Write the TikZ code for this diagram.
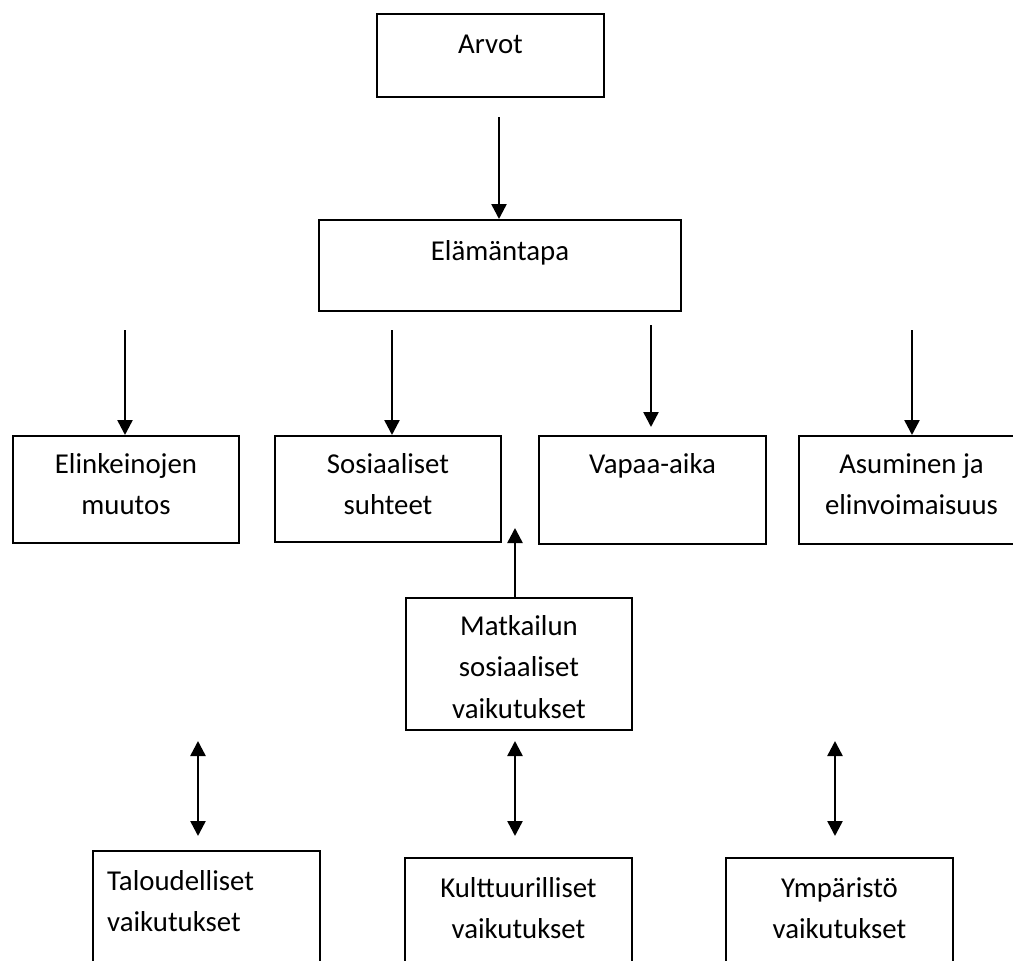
\documentclass[tikz,border=0pt]{standalone}
\usepackage{fontspec}
\setmainfont{Carlito}
\usetikzlibrary{arrows.meta,calc}
\begin{document}
\begin{tikzpicture}[x=1pt,y=-1pt,
  box/.style={draw, line width=2pt, anchor=north west, inner sep=0pt},
  txt/.style={anchor=base, inner sep=0pt, font=\fontsize{28.8}{41.5}\selectfont},
  tipA/.style={},
  arr/.style={line width=2.5pt, -{Triangle[width=15pt,length=15pt]}},
  darr/.style={line width=2.5pt, {Triangle[width=15pt,length=15pt]}-{Triangle[width=15pt,length=15pt]}}]
\useasboundingbox[fill=white] (0,0) rectangle (1013,961);
\clip (0,0) rectangle (1013,961);
% boxes
\node[box, minimum width=227pt, minimum height=83pt]  (arvot) at (376,13) {};
\node[box, minimum width=362pt, minimum height=91pt]  (elama) at (318,219) {};
\node[box, minimum width=226pt, minimum height=107pt] (elink) at (12,435) {};
\node[box, minimum width=226pt, minimum height=106pt] (sosi)  at (274,435) {};
\node[box, minimum width=227pt, minimum height=108pt] (vapaa) at (538,435) {};
\node[box, minimum width=230pt, minimum height=108pt] (asum)  at (798,435) {};
\node[box, minimum width=226pt, minimum height=132pt] (matk)  at (405,597) {};
\node[box, minimum width=227pt, minimum height=130pt] (talo)  at (92,850) {};
\node[box, minimum width=227pt, minimum height=130pt] (kult)  at (404,857) {};
\node[box, minimum width=227pt, minimum height=130pt] (ymp)   at (725,857) {};
% texts
\node[txt] (tarvot) at ($(arvot.north)+(0,40)$) {Arvot};
\node[txt] (telama) at ($(elama.north)+(0,41)$) {Elämäntapa};
\node[txt] (telink) at ($(elink.north)+(0,38)$) {\begin{tabular}[t]{@{}c@{}}Elinkeinojen\\muutos\end{tabular}};
\node[txt] (tsosi)  at ($(sosi.north)+(0,38)$) {\begin{tabular}[t]{@{}c@{}}Sosiaaliset\\suhteet\end{tabular}};
\node[txt] (tvapaa) at ($(vapaa.north)+(0,38)$) {Vapaa-aika};
\node[txt] (tasum)  at ($(asum.north west)+(113.5,38)$) {\begin{tabular}[t]{@{}c@{}}Asuminen ja\\elinvoimaisuus\end{tabular}};
\node[txt] (tmatk)  at ($(matk.north)+(0,38)$) {\begin{tabular}[t]{@{}c@{}}Matkailun\\sosiaaliset\\vaikutukset\end{tabular}};
\node[txt, anchor=base west] (ttalo) at ($(talo.north west)+(15,40)$) {\begin{tabular}[t]{@{}l@{}}Taloudelliset\\vaikutukset\end{tabular}};
\node[txt] (tkult)  at ($(kult.north)+(0,40)$) {\begin{tabular}[t]{@{}c@{}}Kulttuurilliset\\vaikutukset\end{tabular}};
\node[txt] (tymp)   at ($(ymp.north)+(0,40)$) {\begin{tabular}[t]{@{}c@{}}Ympäristö\\vaikutukset\end{tabular}};
% arrows
\coordinate (a0) at (499,117);
\draw[arr] (a0) -- (a0 |- elama.north);
\coordinate (b1) at (125,330);
\draw[arr] (b1) -- (b1 |- elink.north);
\coordinate (b2) at (392,330);
\draw[arr] (b2) -- (b2 |- sosi.north);
\coordinate (b3) at (651,325);
\coordinate (b3e) at (651,427);
\draw[arr] (b3) -- (b3e);
\coordinate (b4) at (912,330);
\draw[arr] (b4) -- (b4 |- asum.north);
\coordinate (u1) at (515,528);
\draw[arr] (u1 |- matk.north) -- (u1);
\coordinate (d1t) at (198,741);
\coordinate (d1b) at (198,836);
\coordinate (d2t) at (515,741);
\coordinate (d2b) at (515,836);
\coordinate (d3t) at (835,741);
\coordinate (d3b) at (835,836);
\draw[darr] (d1t) -- (d1b);
\draw[darr] (d2t) -- (d2b);
\draw[darr] (d3t) -- (d3b);
\end{tikzpicture}
\end{document}
